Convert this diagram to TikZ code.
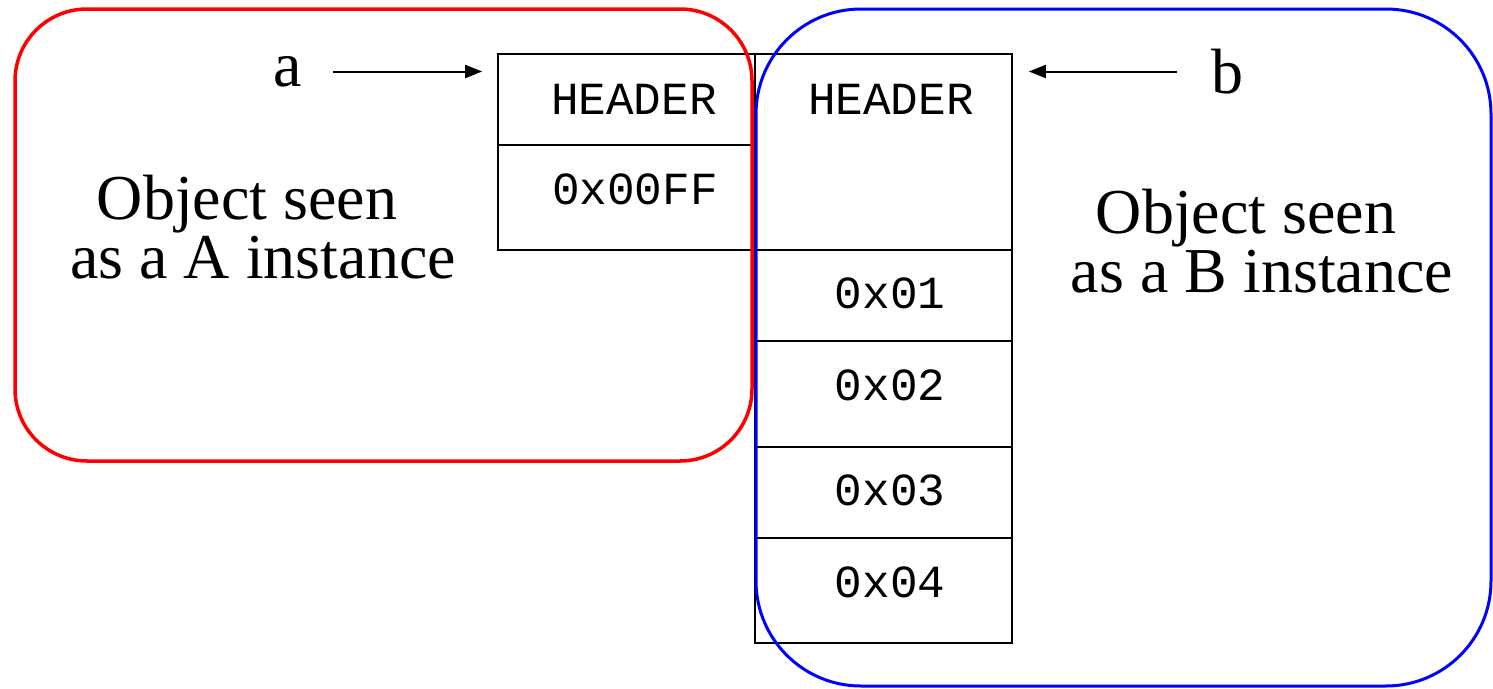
\documentclass[tikz,border=0pt]{standalone}
\usepackage{fontspec}
\setmainfont{Liberation Serif}
\setmonofont{Liberation Mono}
\usetikzlibrary{arrows.meta}

\tikzset{
  frame/.style={draw, line width=1.6pt, inner sep=0pt},
  cell/.style={font=\fontsize{46}{46}\selectfont\ttfamily, inner sep=0pt},
  caption/.style={font=\fontsize{64}{59}\selectfont, align=center, inner sep=0pt},
  pointer/.style={font=\fontsize{64}{64}\selectfont, inner sep=0pt},
}

\begin{document}
\begin{tikzpicture}[x=1pt, y=-1pt, >={Triangle[length=17pt,width=13pt]}, line width=2pt]
    \useasboundingbox (0,0) rectangle (1493,688);

    % Memory layout of both views
    \node (boxA) [frame, minimum width=257pt, minimum height=196pt] at (626.5,152) {};
    \node (boxB) [frame, minimum width=257pt, minimum height=589pt] at (883.5,348.5) {};
    \draw[line width=1.6pt] (boxA.west |- 0,145) -- (boxA.east |- 0,145);
    \foreach \y in {250,341,447,538}
        \draw[line width=1.6pt] (boxB.west |- 0,\y) -- (boxB.east |- 0,\y);

    % Cell contents
    \node (hdrA) [cell] at (634,99.5) {HEADER};
    \node (valA) [cell] at (635,189) {0x00FF};
    \node (hdrB) [cell] at (891,99) {HEADER};
    \foreach \v/\y in {01/293, 02/385, 03/490, 04/582}
        \node (val\v) [cell] at (890,\y) {0x\v};

    % References a and b
    \node (ptrA) [pointer] at (288,71.5) {a};
    \node (ptrB) [pointer] at (1227,71.5) {b};
    \draw[->, shorten <=30pt, shorten >=15pt] (ptrA.east) -- (ptrA.east -| boxA.west);
    \draw[->, shorten <=33pt, shorten >=16pt] (ptrB.west) -- (ptrB.west -| boxB.east);

    % The two views
    \draw[red, line width=3.5pt, rounded corners=72pt] (15,9) rectangle (752,461);
    \draw[blue, line width=3pt, rounded corners=105pt] (756,9) rectangle (1491,686);
    \node (seenA) [caption] at (263,227) {Object seen\hspace*{.5em}\\as a A instance};
    \node (seenB) [caption] at (1262,241) {Object seen\hspace*{.5em}\\as a B instance};

\end{tikzpicture}
\end{document}
